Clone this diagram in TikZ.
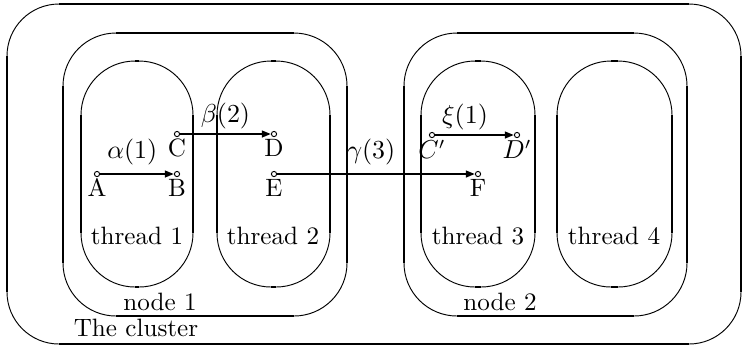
\documentclass[tikz,border=0pt]{standalone}
\usepackage{tikz}
\usetikzlibrary{arrows.meta}
% rounded box: thin corner arcs, heavier straight sides
\newcommand{\roundbox}[5]{%
  \draw[arcline,rounded corners={#5*0.422pt}] (#1,#2) rectangle (#3,#4);
  \draw[sideline] (#1+#5,#2) -- (#3-#5,#2);
  \draw[sideline] (#1+#5,#4) -- (#3-#5,#4);
  \draw[sideline] (#1,#2+#5) -- (#1,#4-#5);
  \draw[sideline] (#3,#2+#5) -- (#3,#4-#5);
}
\tikzset{
  arcline/.style  = {line width=0.4pt},
  sideline/.style = {line width=0.85pt},
  evpt/.style     = {circle,draw,line width=0.4pt,inner sep=0pt,minimum size=2.2pt},
  evlab/.style    = {inner sep=0.6pt},
  msgarr/.style   = {-{Triangle[length=3.8pt,width=2.8pt]},line width=0.85pt},
  msglab/.style   = {above,inner sep=1.5pt}
}
\begin{document}
\begin{tikzpicture}[x=0.422pt,y=-0.422pt,font=\fontsize{10.6pt}{12.8pt}\selectfont]
  \useasboundingbox (0,0) rectangle (743,346);
  % --- the cluster and its two nodes
  \roundbox{7}{4}{741}{344}{52}
  \roundbox{63}{33}{347}{316}{53}
  \roundbox{404}{33}{687}{316}{53}
  % --- four threads, two per node
  \foreach \xa/\xb in {81/193,217/330,421/535,557/672}
    { \roundbox{\xa}{61}{\xb}{287}{54} }
  \node (t1) at (137,236) {thread 1};
  \node (t2) at (273,236) {thread 2};
  \node (t3) at (478,236) {thread 3};
  \node (t4) at (614,236) {thread 4};
  \node (n1) at (160,302) {node 1};
  \node (n2) at (500,302) {node 2};
  \node (cl) at (136,328) {The cluster};
  % --- events
  \node[evpt,label={[evlab]below:A}] (A) at (97,174) {};
  \node[evpt,label={[evlab]below:B}] (B) at (177,174) {};
  \node[evpt,label={[evlab]below:C}] (C) at (177,134) {};
  \node[evpt,label={[evlab]below:D}] (D) at (274,134) {};
  \node[evpt,label={[evlab]below:E}] (E) at (274,174) {};
  \node[evpt,label={[evlab]below:F}] (F) at (478,174) {};
  \node[evpt,label={[evlab]below:$C'$}] (C2) at (432,135) {};
  \node[evpt,label={[evlab]below:$D'$}] (D2) at (517,135) {};
  % --- messages
  \draw[msgarr] (A) -- node[msglab,xshift=-2pt,yshift=2pt] {$\alpha(1)$} (B);
  \draw[msgarr] (C) -- node[msglab] {$\beta(2)$} (D);
  \draw[msgarr] (E) -- node[msglab,xshift=-2pt,yshift=2pt] {$\gamma(3)$} (F);
  \draw[msgarr] (C2) -- node[msglab,xshift=-4pt] {$\xi(1)$} (D2);
\end{tikzpicture}
\end{document}
